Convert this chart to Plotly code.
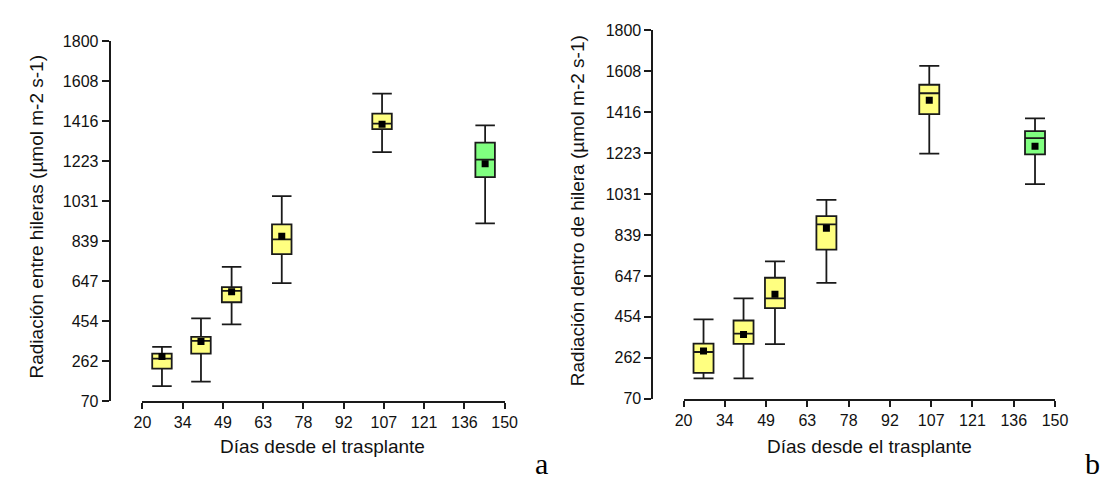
import numpy as np
import plotly.graph_objects as go

# ---------------- data ----------------
days = [27, 41, 52, 70, 106, 143]

# Panel a: Radiación entre hileras
a_lower = [142, 164, 439, 637, 1266, 924]
a_q1 = [226, 298, 545, 776, 1377, 1146]
a_median = [274, 360, 600, 847, 1403, 1230]
a_q3 = [298, 379, 618, 919, 1451, 1312]
a_upper = [331, 468, 715, 1055, 1548, 1395]
a_mean = [285, 357, 595, 862, 1400, 1210]

# Panel b: Radiación dentro de hilera
b_lower = [165, 165, 326, 614, 1221, 1078]
b_q1 = [191, 327, 495, 770, 1407, 1218]
b_median = [289, 375, 541, 889, 1505, 1294]
b_q3 = [328, 437, 638, 928, 1545, 1327]
b_upper = [442, 541, 715, 1004, 1634, 1387]
b_mean = [294, 371, 560, 871, 1472, 1256]

x_ticklabels = ["20", "34", "49", "63", "78", "92", "107", "121", "136", "150"]
y_ticklabels = ["70", "262", "454", "647", "839", "1031", "1223", "1416", "1608", "1800"]

x_title = "Días desde el trasplante"
a_ytitle = "Radiación entre hileras (µmol m-2 s-1)"
b_ytitle = "Radiación dentro de hilera (µmol m-2 s-1)"

# ---------------- styles ----------------
W, H = 1110, 479
YELLOW = "#FFFF80"
GREEN = "#80FF80"
LINE = "#1a1a1a"
box_colors = [YELLOW, YELLOW, YELLOW, YELLOW, YELLOW, GREEN]
FONT = "Arial, Liberation Sans, sans-serif"
SERIF = "Liberation Serif, Times New Roman, serif"

x_range = [20, 150]
y_range = [70, 1800]
x_tickvals = np.linspace(x_range[0], x_range[1], len(x_ticklabels))
y_tickvals = np.linspace(y_range[0], y_range[1], len(y_ticklabels))

fig = go.Figure()


def add_panel(xa, ya, lower, q1, med, q3, upper, mean):
    for i, d in enumerate(days):
        fig.add_trace(go.Box(
            x=[d], q1=[q1[i]], median=[med[i]], q3=[q3[i]],
            lowerfence=[lower[i]], upperfence=[upper[i]],
            width=7, whiskerwidth=1, fillcolor=box_colors[i],
            line=dict(color=LINE, width=1.8),
            boxpoints=False, xaxis=xa, yaxis=ya, showlegend=False,
            hoverinfo="skip",
        ))
    fig.add_trace(go.Scatter(
        x=days, y=mean, mode="markers", xaxis=xa, yaxis=ya,
        marker=dict(symbol="square", size=7, color="black"),
        showlegend=False, hoverinfo="skip",
    ))


add_panel("x", "y", a_lower, a_q1, a_median, a_q3, a_upper, a_mean)
add_panel("x2", "y2", b_lower, b_q1, b_median, b_q3, b_upper, b_mean)

common_ax = dict(
    showline=True, linecolor=LINE, linewidth=2, ticks="outside",
    tickcolor=LINE, tickwidth=1.5, showgrid=False, zeroline=False,
    tickfont=dict(family=FONT, size=16, color="#111"),
)


def px_x(p):
    return p / W


def px_y(p):
    return 1 - p / H


fig.update_layout(
    width=W, height=H, margin=dict(l=0, r=0, t=0, b=0),
    paper_bgcolor="white", plot_bgcolor="white", boxmode="overlay",
    xaxis=dict(domain=[px_x(128), px_x(497.5)], range=x_range, anchor="y",
               tickvals=x_tickvals, ticktext=x_ticklabels, ticklen=6, **common_ax),
    yaxis=dict(domain=[px_y(399.3), px_y(26)], range=y_range, anchor="free",
               position=px_x(94.5), tickvals=y_tickvals, ticktext=y_ticklabels,
               ticklen=7, **common_ax),
    xaxis2=dict(domain=[px_x(680), px_x(1059)], range=x_range, anchor="y2",
                tickvals=x_tickvals, ticktext=x_ticklabels, ticklen=6, **common_ax),
    yaxis2=dict(domain=[px_y(396.7), px_y(15)], range=y_range, anchor="free",
                position=px_x(648.3), tickvals=y_tickvals, ticktext=y_ticklabels,
                ticklen=7, **common_ax),
)

tfont = dict(family=FONT, size=19, color="#111")
ann = [
    dict(text=x_title, x=px_x(312), y=px_y(446.7), xref="paper", yref="paper",
         showarrow=False, font=tfont, xanchor="center", yanchor="middle"),
    dict(text=x_title, x=px_x(869.5), y=px_y(446.7), xref="paper", yref="paper",
         showarrow=False, font=tfont, xanchor="center", yanchor="middle"),
    dict(text=a_ytitle, x=px_x(20), y=px_y(208.3), xref="paper", yref="paper",
         showarrow=False, font=tfont, textangle=-90, xanchor="center", yanchor="middle"),
    dict(text=b_ytitle, x=px_x(572), y=px_y(201.7), xref="paper", yref="paper",
         showarrow=False, font=tfont, textangle=-90, xanchor="center", yanchor="middle"),
    dict(text="a", x=px_x(535), y=0, xref="paper", yref="paper", yshift=-4,
         showarrow=False, font=dict(family=SERIF, size=30, color="black"),
         xanchor="center", yanchor="bottom"),
    dict(text="b", x=px_x(1097), y=0, xref="paper", yref="paper", yshift=-4,
         showarrow=False, font=dict(family=SERIF, size=30, color="black"),
         xanchor="center", yanchor="bottom"),
]
fig.update_layout(annotations=ann)

fig.write_html("out.html")
